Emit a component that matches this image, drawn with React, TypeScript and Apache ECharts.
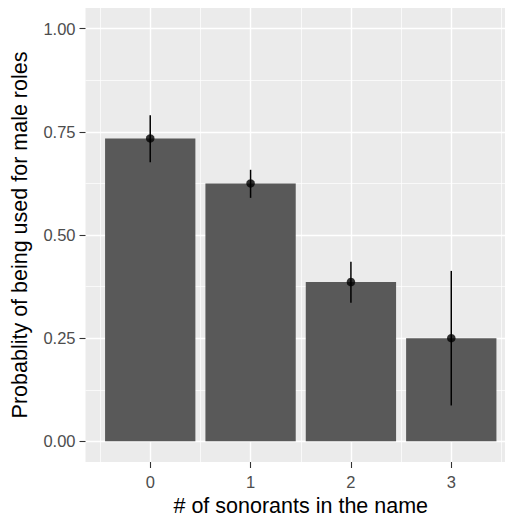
import React, { useEffect, useRef } from "react";
import * as echarts from "echarts";

const categories = [0, 1, 2, 3];
const means = [0.734, 0.625, 0.386, 0.25];
const lower = [0.676, 0.59, 0.336, 0.087];
const upper = [0.79, 0.658, 0.435, 0.413];
const xMajorTicks = [0, 1, 2, 3];
const xMinorTicks = [-0.5, 0.5, 1.5, 2.5, 3.5];
const yMajorTicks = [0, 0.25, 0.5, 0.75, 1.0];
const yMinorTicks = [0.125, 0.375, 0.625, 0.875];

const X_MIN = -0.645;
const X_MAX = 3.645;
const Y_MIN = -0.05;
const Y_MAX = 1.05;
const FONT = "Liberation Sans, Arial, Helvetica, sans-serif";

export default function App() {
  const ref = useRef<HTMLDivElement>(null);
  useEffect(() => {
    if (!ref.current) return;
    const chart = echarts.init(ref.current, undefined, { renderer: "svg" });
    const hiddenAxisParts = {
      axisLine: { show: false, onZero: false },
      axisLabel: { show: false },
    };
    chart.setOption({
      animation: false,
      grid: {
        left: 85.5,
        top: 8,
        width: 430.5,
        height: 454,
        show: true,
        backgroundColor: "#EBEBEB",
        borderWidth: 0,
        containLabel: false,
        outerBoundsMode: "none",
      },
      xAxis: [
        {
          type: "value",
          min: X_MIN,
          max: X_MAX,
          name: "# of sonorants in the name",
          nameLocation: "middle",
          nameGap: 29,
          nameTextStyle: { fontFamily: FONT, fontSize: 21.5, lineHeight: 21, color: "#000000" },
          axisLine: { show: false, onZero: false },
          axisTick: {
            show: true,
            length: 6,
            customValues: xMajorTicks,
            lineStyle: { color: "#333333", width: 1.1 },
          },
          axisLabel: {
            show: true,
            customValues: xMajorTicks,
            margin: 11,
            fontFamily: FONT,
            fontSize: 16.5,
            color: "#4D4D4D",
            formatter: (v: number) => String(v),
          },
          splitLine: { show: true, lineStyle: { color: "#FFFFFF", width: 1.4 } },
        },
        {
          type: "value",
          min: X_MIN,
          max: X_MAX,
          position: "bottom",
          ...hiddenAxisParts,
          axisTick: { show: false, customValues: xMinorTicks },
          splitLine: { show: true, lineStyle: { color: "#FFFFFF", width: 0.7 } },
        },
      ],
      yAxis: [
        {
          type: "value",
          min: Y_MIN,
          max: Y_MAX,
          name: "Probablity of being used for male roles",
          nameLocation: "middle",
          nameGap: 55,
          nameRotate: 90,
          nameTextStyle: { fontFamily: FONT, fontSize: 21.5, color: "#000000" },
          axisLine: { show: false, onZero: false },
          axisTick: {
            show: true,
            length: 6,
            customValues: yMajorTicks,
            lineStyle: { color: "#333333", width: 1.1 },
          },
          axisLabel: {
            show: true,
            customValues: yMajorTicks,
            margin: 10,
            fontFamily: FONT,
            fontSize: 16.5,
            color: "#4D4D4D",
            formatter: (v: number) => v.toFixed(2),
          },
          splitLine: { show: true, lineStyle: { color: "#FFFFFF", width: 1.4 } },
        },
        {
          type: "value",
          min: Y_MIN,
          max: Y_MAX,
          position: "left",
          ...hiddenAxisParts,
          axisTick: { show: false, customValues: yMinorTicks },
          splitLine: { show: true, lineStyle: { color: "#FFFFFF", width: 0.7 } },
        },
      ],
      series: [
        {
          type: "custom",
          name: "bars",
          xAxisIndex: 0,
          yAxisIndex: 0,
          data: categories.map((c, i) => [c, means[i]]),
          renderItem: (params: any, api: any) => {
            const x = api.value(0);
            const y = api.value(1);
            const p1 = api.coord([x - 0.45, y]);
            const p2 = api.coord([x + 0.45, 0]);
            return {
              type: "rect",
              shape: { x: p1[0], y: p1[1], width: p2[0] - p1[0], height: p2[1] - p1[1] },
              style: { fill: "#595959" },
            };
          },
          z: 2,
        },
        {
          type: "custom",
          name: "errors",
          xAxisIndex: 0,
          yAxisIndex: 0,
          data: categories.map((c, i) => [c, lower[i], upper[i]]),
          renderItem: (params: any, api: any) => {
            const x = api.value(0);
            const a = api.coord([x, api.value(1)]);
            const b = api.coord([x, api.value(2)]);
            return {
              type: "line",
              shape: { x1: a[0], y1: a[1], x2: b[0], y2: b[1] },
              style: { stroke: "#000000", lineWidth: 1.5 },
            };
          },
          z: 3,
        },
        {
          type: "scatter",
          name: "means",
          xAxisIndex: 0,
          yAxisIndex: 0,
          data: categories.map((c, i) => [c, means[i]]),
          symbol: "circle",
          symbolSize: 8.5,
          itemStyle: { color: "#000000" },
          z: 4,
        },
      ],
    });
    return () => chart.dispose();
  }, []);
  return (
    <div
      style={{
        position: "fixed",
        left: 0,
        top: 0,
        width: 505,
        height: 515,
        overflow: "hidden",
        background: "#FFFFFF",
      }}
    >
      <div ref={ref} style={{ width: 520, height: 515 }} />
    </div>
  );
}
